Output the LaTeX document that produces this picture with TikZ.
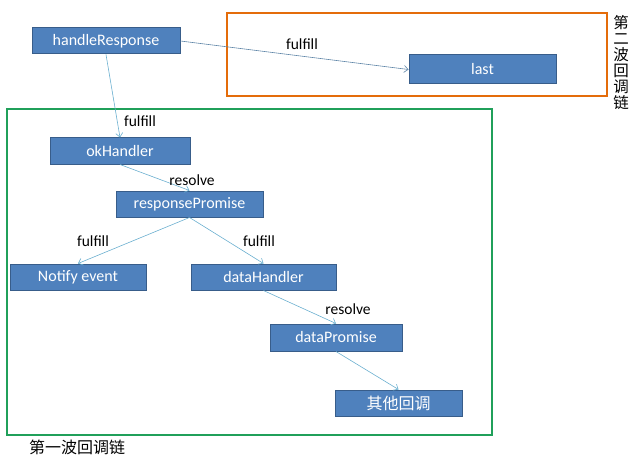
\documentclass[tikz,border=0pt]{standalone}
\usepackage{fontspec}
\setmainfont{Carlito}
\newfontfamily\cjk{Noto Sans CJK SC}
\usetikzlibrary{arrows.meta}
\definecolor{boxfill}{HTML}{4F81BD}
\definecolor{boxborder}{HTML}{385D8A}
\definecolor{arrowcol}{HTML}{6AAFCF}
\definecolor{arrowgray}{HTML}{5F86A8}
\definecolor{orangeframe}{HTML}{E46C0A}
\definecolor{greenframe}{HTML}{20A05A}
\begin{document}
\begin{tikzpicture}[x=1pt,y=-1pt,
  box/.style={draw=boxborder, fill=boxfill, line width=1pt, text=white, minimum height=26pt, inner sep=0pt, font=\fontsize{16}{18}\selectfont},
  conn/.style={draw=arrowcol, line width=0.6pt, -{Straight Barb[length=4pt,width=7pt]}},
  lbl/.style={font=\fontsize{15.5}{17}\selectfont, inner sep=1pt},
  frame/.style={line width=1.6pt}]
\useasboundingbox (0,0) rectangle (637,468);
% frames
\draw[frame, draw=orangeframe] (227,13) rectangle (607,96);
\draw[frame, draw=greenframe] (7,109) rectangle (492,435);
% nodes
\node[box, minimum width=148pt] (hr) at (106,41) {handleResponse};
\node[box, minimum width=147pt, minimum height=29pt] (last) at (482.5,69.5) {last};
\node[box, minimum width=140pt] (ok) at (120,151) {okHandler};
\node[box, minimum width=147pt] (rp) at (189.5,204) {responsePromise};
\node[box, minimum width=136pt] (ne) at (78,277) {Notify event};
\node[box, minimum width=145pt] (dh) at (263.5,277) {dataHandler};
\node[box, minimum width=132pt, minimum height=27pt] (dp) at (336,337.5) {dataPromise};
\node[box, minimum width=127pt, font=\cjk\fontsize{16}{18}\selectfont] (other) at (398.5,403) {其他回调};
% side labels
\node[font=\cjk\fontsize{15.5}{16}\selectfont, align=center, inner sep=0pt] (t2) at (621,63) {第\\二\\波\\回\\调\\链};
\node[font=\cjk\fontsize{16}{18}\selectfont, inner sep=0pt] (t1) at (77,447) {第一波回调链};
% connectors
\draw[conn, draw=arrowgray] (hr.east) -- (last.west);
\draw[conn] (hr.south) -- (ok.north);
\draw[conn] (ok.south) -- (rp.north);
\draw[conn] (rp.south) -- (ne.north);
\draw[conn] (rp.south) -- (dh.north);
\draw[conn] (dh.south) -- (dp.north);
\draw[conn] (dp.south) -- (other.north);
% labels
\node[lbl] (l1) at (302,44) {fulfill};
\node[lbl] (l2) at (140,121) {fulfill};
\node[lbl] (l3) at (192,180) {resolve};
\node[lbl] (l4) at (93,241) {fulfill};
\node[lbl] (l5) at (259,241) {fulfill};
\node[lbl] (l6) at (348,309) {resolve};
\end{tikzpicture}
\end{document}
